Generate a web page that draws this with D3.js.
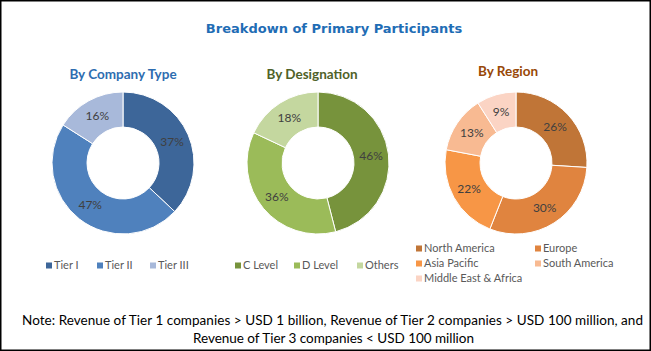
<!DOCTYPE html>
<html>
<head>
<meta charset="utf-8">
<script src="https://cdn.jsdelivr.net/npm/d3@7"></script>
<style>
  body { margin: 0; background: #fff; }
  svg text { font-family: Lato, "Open Sans", sans-serif; }
</style>
</head>
<body>
<svg id="chart"></svg>
<script>
let w = 651;
let h = 351;

// data
const companyTypes = ['Tier I', 'Tier II', 'Tier III'];
const companyShares = [37, 47, 16];
const designations = ['C Level', 'D Level', 'Others'];
const designationShares = [46, 36, 18];
const regions = ['North America', 'Europe', 'Asia Pacific', 'South America', 'Middle East & Africa'];
const regionShares = [26, 30, 22, 13, 9];

const noteLines = [
    'Note: Revenue of Tier 1 companies > USD 1 billion, Revenue of Tier 2 companies > USD 100 million, and',
    'Revenue of Tier 3 companies < USD 100 million'
];
const noteWidths = [621, 281];

const panels = [
    {
        title: 'By Company Type', titleColor: '#2E6DB0',
        cats: companyTypes, vals: companyShares,
        colors: ['#3D6699', '#4F81BD', '#A8B9DA'],
        cx: 123, cy: 163, tx: 123, ty: 79,
        legend: [[46, 265.5], [97, 265.5], [150, 265.5]]
    },
    {
        title: 'By Designation', titleColor: '#4F6228',
        cats: designations, vals: designationShares,
        colors: ['#77933C', '#9BBB59', '#C4D79F'],
        cx: 318, cy: 163, tx: 312, ty: 79,
        legend: [[235, 265.5], [294, 265.5], [357, 265.5]]
    },
    {
        title: 'By Region', titleColor: '#984807',
        cats: regions, vals: regionShares,
        colors: ['#C07537', '#E0843F', '#F79646', '#F8BA92', '#FBD4C4'],
        cx: 516, cy: 163, tx: 508, ty: 76,
        legend: [[416, 248.5], [535, 248.5], [416, 263.5], [535, 263.5], [416, 278.5]]
    }
];

function createGraph() {
    const chart = d3.select('#chart')
        .attr('width', w)
        .attr('height', h);

    chart.append('rect')
        .attr('x', 0.75).attr('y', 0.75)
        .attr('width', w - 1.5).attr('height', h - 1.5)
        .style('fill', '#fff')
        .style('stroke', '#000')
        .style('stroke-width', 1.5);

    chart.append('text')
        .attr('x', 334).attr('y', 33)
        .attr('text-anchor', 'middle')
        .style('font-family', 'DejaVu Sans, sans-serif')
        .style('font-weight', 'bold')
        .style('font-size', '13px')
        .style('fill', '#1F6DB5')
        .text('Breakdown of Primary Participants');

    const pie = d3.pie().sort(null).value(d => d);
    const arc = d3.arc().innerRadius(36).outerRadius(71);
    const labelArc = d3.arc().innerRadius(53.5).outerRadius(53.5);

    panels.forEach(p => {
        const color = d3.scaleOrdinal().domain(p.cats).range(p.colors);

        chart.append('text')
            .attr('x', p.tx).attr('y', p.ty)
            .attr('text-anchor', 'middle')
            .style('font-size', '13.5px')
            .style('font-weight', 'bold')
            .style('fill', p.titleColor)
            .text(p.title);

        const g = chart.append('g')
            .attr('transform', `translate(${p.cx},${p.cy})`);

        const arcs = pie(p.vals);

        g.selectAll('path')
            .data(arcs)
            .enter()
            .append('path')
            .attr('d', arc)
            .style('fill', (d, i) => color(p.cats[i]))
            .style('stroke', '#fff')
            .style('stroke-width', 1);

        g.selectAll('text')
            .data(arcs)
            .enter()
            .append('text')
            .attr('transform', d => `translate(${labelArc.centroid(d)})`)
            .attr('dy', '0.35em')
            .attr('text-anchor', 'middle')
            .style('font-size', '12px')
            .style('fill', '#404040')
            .text(d => d.data + '%');

        const lg = chart.append('g')
            .selectAll('g')
            .data(p.cats)
            .enter()
            .append('g')
            .attr('transform', (d, i) => `translate(${p.legend[i][0]},${p.legend[i][1]})`);

        lg.append('rect')
            .attr('x', 0).attr('y', -3)
            .attr('width', 6).attr('height', 6)
            .style('fill', d => color(d));

        lg.append('text')
            .attr('x', 8).attr('y', 0)
            .attr('dy', '0.35em')
            .style('font-size', '11px')
            .style('fill', '#595959')
            .text(d => d);
    });

    chart.selectAll('text.note')
        .data(noteLines)
        .enter()
        .append('text')
        .attr('class', 'note')
        .attr('x', (d, i) => i === 0 ? 22 : 193)
        .attr('y', (d, i) => 325 + i * 18)
        .attr('textLength', (d, i) => noteWidths[i])
        .attr('lengthAdjust', 'spacing')
        .style('font-size', '13.5px')
        .style('fill', '#000')
        .text(d => d);
}

createGraph();
</script>
</body>
</html>
